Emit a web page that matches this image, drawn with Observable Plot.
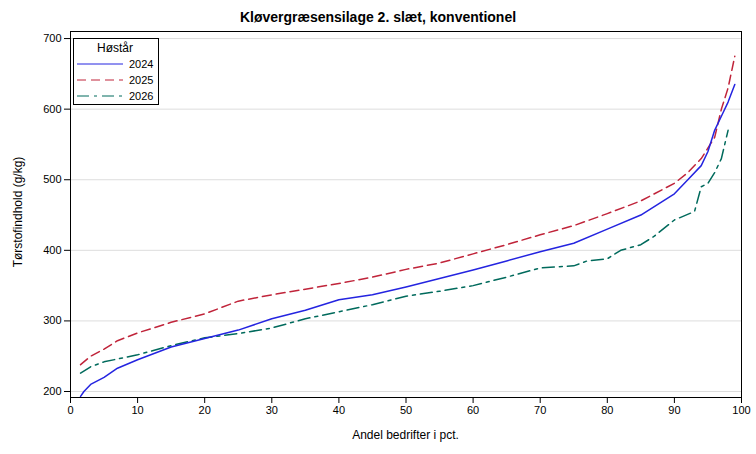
<!DOCTYPE html><html><head><meta charset="utf-8">
<script src="https://cdn.jsdelivr.net/npm/d3@7"></script>
<script src="https://cdn.jsdelivr.net/npm/@observablehq/plot@0.6"></script>
<style>body{margin:0;font-family:Arial,"Liberation Sans",sans-serif;background:#fff}#w{position:relative;width:756px;height:454px}
#t{position:absolute;top:9px;left:0;width:756px;text-align:center;font-weight:bold;font-size:14px}
#xl{position:absolute;top:428px;left:70px;width:671px;text-align:center;font-size:12px}
#yl{position:absolute;left:-82px;top:205px;width:200px;text-align:center;font-size:12px;transform:rotate(-90deg)}
#lg{position:absolute;left:73px;top:38px}</style></head><body><div id="w"><div id="t">Kløvergræsensilage 2. slæt, konventionel</div><div id="c"></div>
<div id="xl">Andel bedrifter i pct.</div><div id="yl">Tørstofindhold (g/kg)</div>
<svg id="lg" width="86" height="67" font-family="Arial,Liberation Sans,sans-serif"><rect x="0.5" y="0.5" width="85" height="66" fill="#fff" stroke="#000"/>
<text x="24" y="14" font-size="12">Høstår</text>
<line x1="4" x2="50" y1="26" y2="26" stroke="#2424e0"/><text x="56" y="30" font-size="11">2024</text>
<line x1="4" x2="50" y1="42" y2="42" stroke="#c0243a" stroke-dasharray="9,5"/><text x="56" y="46" font-size="11">2025</text>
<line x1="4" x2="50" y1="58" y2="58" stroke="#006a5c" stroke-dasharray="12,5,3,5"/><text x="56" y="62" font-size="11">2026</text></svg></div>
<script>
const x2024=[1.5,2,3,5,7,10,15,20,25,30,35,40,45,50,55,60,65,70,75,80,85,90,92,94,95,96,97,98,99];
const y2024=[193,200,210,220,233,245,263,275,287,303,315,330,337,348,360,372,385,398,410,430,450,480,500,520,540,570,590,610,635];
const x2025=[1.5,3,5,7,10,15,20,25,30,35,40,45,50,55,60,65,70,75,80,85,90,92,94,96,97,98,99];
const y2025=[238,250,260,272,283,298,310,328,337,345,353,362,373,382,395,408,422,435,452,470,495,510,530,560,600,630,675];
const x2026=[1.5,3,5,10,15,20,25,30,35,40,45,50,55,60,65,70,75,77,80,82,85,87,90,93,94,95,96,97,98];
const y2026=[226,235,242,252,265,276,282,290,303,313,323,335,342,350,362,375,378,385,388,400,408,420,443,455,490,495,510,530,570];
const mk=(xs,ys)=>xs.map((x,i)=>({x,y:ys[i]}));
const p=Plot.plot({width:756,height:454,marginLeft:70,marginRight:15,marginTop:31,marginBottom:57,
style:{fontFamily:"Arial,Liberation Sans,sans-serif",fontSize:"11px",color:"#000"},
x:{domain:[0,100],ticks:d3.range(0,101,10),label:null},
y:{domain:[191.5,710],ticks:[200,300,400,500,600,700],label:null},
marks:[Plot.gridY([200,300,400,500,600,700],{stroke:"#ddd",strokeOpacity:1}),
Plot.line(mk(x2026,y2026),{x:"x",y:"y",stroke:"#006a5c",strokeDasharray:"12,5,3,5"}),
Plot.line(mk(x2025,y2025),{x:"x",y:"y",stroke:"#c0243a",strokeDasharray:"9,5"}),
Plot.line(mk(x2024,y2024),{x:"x",y:"y",stroke:"#2424e0"}),
Plot.frame({stroke:"#000"})]});
document.getElementById("c").appendChild(p);
</script></body></html>
